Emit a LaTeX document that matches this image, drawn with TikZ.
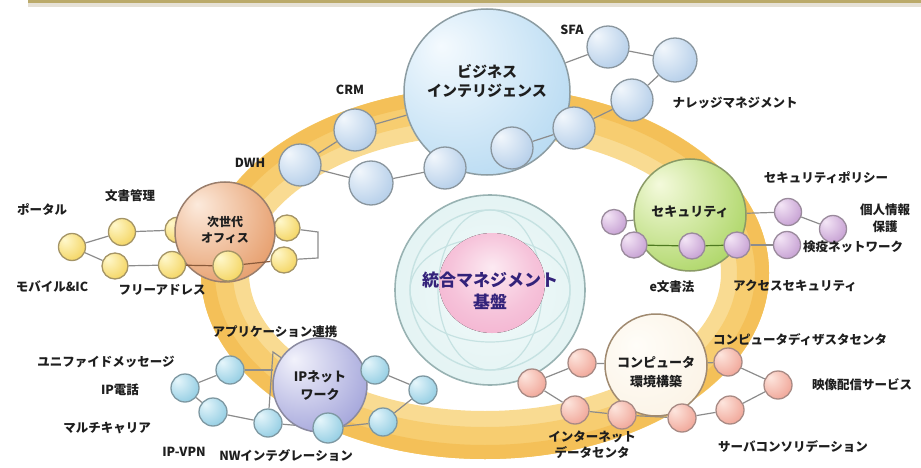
\documentclass[tikz,border=0pt]{standalone}
\usepackage{fontspec}
\setmainfont{Noto Sans CJK JP}
\pgfdeclarelayer{ringlayer}
\pgfdeclarelayer{linklayer}
\pgfsetlayers{ringlayer,linklayer,main}

% palette
\definecolor{bandA}{HTML}{BBAA6A}
\definecolor{bandB}{HTML}{E6E1D6}
\definecolor{ringA}{HTML}{F9DB92}
\definecolor{ringB}{HTML}{F7CD70}
\definecolor{ringC}{HTML}{F4C058}
\definecolor{linkc}{HTML}{8C8C8C}
\definecolor{labelc}{HTML}{1E1E1E}
\definecolor{blueIn}{HTML}{F2F7FC}
\definecolor{blueOut}{HTML}{9EBFE2}
\definecolor{blueEdge}{HTML}{8A969E}
\definecolor{yelIn}{HTML}{FFF8CC}
\definecolor{yelOut}{HTML}{F0C83A}
\definecolor{yelEdge}{HTML}{A49466}
\definecolor{purIn}{HTML}{F4E6F6}
\definecolor{purOut}{HTML}{B586C6}
\definecolor{purEdge}{HTML}{9A8A9C}
\definecolor{salIn}{HTML}{FDE6DE}
\definecolor{salOut}{HTML}{EC8E7E}
\definecolor{salEdge}{HTML}{A88A84}
\definecolor{cyaIn}{HTML}{E6F6FB}
\definecolor{cyaOut}{HTML}{74BEDA}
\definecolor{cyaEdge}{HTML}{7E98A2}
\definecolor{biIn}{HTML}{F4FAFE}
\definecolor{biOut}{HTML}{A4D0EE}
\definecolor{biEdge}{HTML}{8C9CA2}
\definecolor{offIn}{HTML}{FCEADC}
\definecolor{offOut}{HTML}{DF8446}
\definecolor{offEdge}{HTML}{9A7E6C}
\definecolor{secIn}{HTML}{F4FADC}
\definecolor{secOut}{HTML}{96CA40}
\definecolor{secEdge}{HTML}{8A9A66}
\definecolor{ipIn}{HTML}{F2F2FB}
\definecolor{ipOut}{HTML}{8A8CD0}
\definecolor{ipEdge}{HTML}{8A8AA0}
\definecolor{cmpIn}{HTML}{FFFDF8}
\definecolor{cmpOut}{HTML}{F6E6CE}
\definecolor{cmpEdge}{HTML}{A08A70}
\definecolor{coreIn}{HTML}{F2FAFA}
\definecolor{coreOut}{HTML}{D6EDED}
\definecolor{coreEdge}{HTML}{98B2B2}
\definecolor{coreLine}{HTML}{C6E2E2}
\definecolor{pinkIn}{HTML}{FCEAF2}
\definecolor{pinkOut}{HTML}{F09CC2}
\definecolor{coreText}{HTML}{33227A}
\definecolor{greenLine}{HTML}{4E7A20}
\definecolor{brownLine}{HTML}{8A5A3A}

% glossy sphere shadings, highlight up and to the left
\def\declbub#1#2#3{\pgfdeclareradialshading{#1}{\pgfpoint{-14bp}{14bp}}%
  {color(0bp)=(#2); color(22bp)=(#2!55!#3); color(48bp)=(#3); color(72bp)=(#3!85!black)}}
\declbub{shBlue}{blueIn}{blueOut}
\declbub{shYel}{yelIn}{yelOut}
\declbub{shPur}{purIn}{purOut}
\declbub{shSal}{salIn}{salOut}
\declbub{shCya}{cyaIn}{cyaOut}
\declbub{shBi}{biIn}{biOut}
\declbub{shOff}{offIn}{offOut}
\declbub{shSec}{secIn}{secOut}
\declbub{shIp}{ipIn}{ipOut}
\pgfdeclareradialshading{shCmp}{\pgfpoint{-10bp}{10bp}}{color(0bp)=(cmpIn); color(40bp)=(cmpIn!50!cmpOut); color(70bp)=(cmpOut)}
\pgfdeclareradialshading{shCore}{\pgfpoint{0bp}{0bp}}{color(0bp)=(coreIn); color(50bp)=(coreOut)}
\pgfdeclareradialshading{shPink}{\pgfpoint{0bp}{8bp}}{color(0bp)=(pinkIn); color(20bp)=(pinkIn!50!pinkOut); color(50bp)=(pinkOut)}

\begin{document}
\begin{tikzpicture}[x=1pt,y=-1pt,
  lbl/.style={font=\bfseries\fontsize{12.5}{14}\selectfont, text=labelc, inner sep=0pt},
  big/.style={font=\bfseries\fontsize{14}{20}\selectfont, text=labelc, align=center, inner sep=0pt},
  bub/.style={circle, inner sep=0pt, line width=1.3pt},
  bblue/.style={bub, draw=blueEdge, shading=shBlue},
  byel/.style={bub, draw=yelEdge, shading=shYel},
  bpur/.style={bub, draw=purEdge, shading=shPur},
  bsal/.style={bub, draw=salEdge, shading=shSal},
  bcya/.style={bub, draw=cyaEdge, shading=shCya},
  link/.style={draw=linkc, line width=1.2pt},
  overlink/.style={line width=1.2pt}
]
\useasboundingbox (0,0) rectangle (921,468);

% header strip
\fill[bandA] (28,0) rectangle (921,3.5);
\fill[bandB] (28,3.5) rectangle (921,7);

% the orange orbit
\begin{pgfonlayer}{ringlayer}
  \draw[ringA, line width=48pt] (485,273) ellipse [x radius=260, y radius=162];
  \draw[ringB, line width=32pt] (485,273) ellipse [x radius=268, y radius=170];
  \draw[ringC, line width=14pt] (485,273) ellipse [x radius=277, y radius=179];
\end{pgfonlayer}

% bubbles that sit behind the big spheres
\node[byel, minimum size=26] (y5) at (178,230) {};
\node[byel, minimum size=26] (y7) at (287,228) {};
\node[bpur, minimum size=25] (p1) at (614,222) {};

% big spheres
\node[bub, draw=biEdge, shading=shBi, minimum size=166, line width=1.5pt] (bi) at (487,92) {};
\node[bub, draw=offEdge, shading=shOff, minimum size=100, line width=1.5pt] (off) at (225,232) {};
\node[bub, draw=secEdge, shading=shSec, minimum size=112, line width=1.5pt] (sec) at (690,215) {};
\node[bub, draw=ipEdge, shading=shIp, minimum size=94, line width=1.5pt] (ipn) at (320,385) {};
\node[bub, draw=cmpEdge, shading=shCmp, minimum size=102, line width=1.5pt] (cmp) at (656,365) {};

% central platform
\node[bub, draw=coreEdge, shading=shCore, minimum size=190, line width=1.6pt] (core) at (490,290) {};
\draw[coreLine, line width=1.4pt] (490,290) circle (80);
\draw[coreLine, line width=1.2pt] (490,290) ellipse [x radius=80, y radius=52];
\draw[coreLine, line width=1.2pt] (490,290) ellipse [x radius=52, y radius=80];
\fill[shading=shPink] (492,283) ellipse [x radius=53, y radius=50];
\node[font=\bfseries\fontsize{17}{22}\selectfont, text=coreText, align=center] (coreT) at (490,291) {統合マネジメント\\基盤};

% business intelligence cluster
\node[bblue, minimum size=42] (bSFA) at (608,47) {};
\node[bblue, minimum size=44] (bK1) at (675,60) {};
\node[bblue, minimum size=42] (bK2) at (632,100) {};
\node[bblue, minimum size=42] (bK3) at (574,128) {};
\node[bblue, minimum size=42] (bL1) at (512,148) {};
\node[bblue, minimum size=42] (bL2) at (445,168) {};
\node[bblue, minimum size=44] (bL3) at (371,183) {};
\node[bblue, minimum size=42] (bDWH) at (300,165) {};
\node[bblue, minimum size=42] (bCRM) at (355,130) {};
\node[big, font=\bfseries\fontsize{15}{19}\selectfont] (biT) at (487,81) {ビジネス\\インテリジェンス};

% office cluster
\node[byel, minimum size=27] (y1) at (122,232) {};
\node[byel, minimum size=27] (y2) at (72,247) {};
\node[byel, minimum size=26] (y3) at (115,266) {};
\node[byel, minimum size=27] (y4) at (172,265) {};
\node[byel, minimum size=30] (y6) at (228,266) {};
\node[byel, minimum size=26] (y8) at (284,260) {};
\coordinate (ofR1) at (318,232);
\coordinate (ofR2) at (318,258);
\node[big, font=\bfseries\fontsize{12}{16}\selectfont] (offT) at (225,230) {次世代\\オフィス};

% security cluster
\node[bpur, minimum size=26] (p2) at (634,245) {};
\node[bpur, minimum size=26] (p3) at (692,246) {};
\node[bpur, minimum size=26] (p4) at (737,245) {};
\node[bpur, minimum size=27] (p5) at (788,212) {};
\node[bpur, minimum size=27] (p6) at (833,229) {};
\node[bpur, minimum size=27] (p7) at (787,245) {};
\node[big, font=\bfseries\fontsize{13}{16}\selectfont] (secT) at (690,212) {セキュリティ};

% IP network cluster
\node[bcya, minimum size=28] (i1) at (230,370) {};
\node[bcya, minimum size=28] (i2) at (185,388) {};
\node[bcya, minimum size=28] (i3) at (213,412) {};
\node[bcya, minimum size=28] (i4) at (268,423) {};
\node[bcya, minimum size=30] (i5) at (328,428) {};
\node[bcya, minimum size=28] (i6) at (375,370) {};
\node[bcya, minimum size=28] (i7) at (423,390) {};
\node[bcya, minimum size=28] (i8) at (383,422) {};
\coordinate (ipV1) at (273,352);
\coordinate (ipM) at (273,370);
\node[big, font=\bfseries\fontsize{13}{18}\selectfont] (ipT) at (320,386) {IPネット\\ワーク};

% computing environment cluster
\node[bsal, minimum size=28] (c1) at (582,363) {};
\node[bsal, minimum size=28] (c2) at (532,383) {};
\node[bsal, minimum size=28] (c3) at (575,410) {};
\node[bsal, minimum size=28] (c4) at (622,415) {};
\node[bsal, minimum size=28] (c5) at (682,418) {};
\node[bsal, minimum size=28] (c6) at (730,410) {};
\node[bsal, minimum size=28] (c7) at (728,362) {};
\node[bsal, minimum size=28] (c8) at (778,385) {};
\node[big, font=\bfseries\fontsize{13}{19}\selectfont] (cmpT) at (656,372) {コンピュータ\\環境構築};

% connectors beneath the spheres
\begin{pgfonlayer}{linklayer}
  \draw[link] (bi) -- (bCRM);
  \draw[link] (bCRM) -- (bDWH);
  \draw[link] (bDWH) -- (bL3);
  \draw[link] (bL3) -- (bL2);
  \draw[link] (bL2) -- (bL1);
  \draw[link] (bK3) -- (bK2);
  \draw[link] (bK2) -- (bK1);
  \draw[link] (bK1) -- (bSFA);
  \draw[link] (bSFA) -- (bi);
  \draw[link] (y2) -- (y1);
  \draw[link] (y1) -- (y5);
  \draw[link] (y2) -- (y3);
  \draw[link] (y3) -- (y4);
  \draw[link] (y7) -- (ofR1) -- (ofR2) -- (y8);
  \draw[link] (p1) -- (sec);
  \draw[link] (p4) -- (p7);
  \draw[link] (sec) -- (p5);
  \draw[link] (p5) -- (p6);
  \draw[link] (i2) -- (i1);
  \draw[link] (i1) -- (ipM);
  \draw[link] (i4) -- (ipV1) -- (ipn);
  \draw[link] (i2) -- (i3);
  \draw[link] (i3) -- (i4);
  \draw[link] (i4) -- (i5);
  \draw[link] (i6) -- (ipn);
  \draw[link] (i6) -- (i7);
  \draw[link] (i7) -- (i8);
  \draw[link] (i8) -- (i5);
  \draw[link] (c2) -- (c1);
  \draw[link] (c1) -- (cmp);
  \draw[link] (c2) -- (c3);
  \draw[link] (c3) -- (c4);
  \draw[link] (c4) -- (c5);
  \draw[link] (c5) -- (c6);
  \draw[link] (c6) -- (c8);
  \draw[link] (c8) -- (c7);
  \draw[link] (c7) -- (cmp);
\end{pgfonlayer}

% connectors running across the spheres
\draw[overlink, linkc] (bL1) -- (bK3);
\draw[overlink, brownLine] (y4) -- (y6);
\draw[overlink, brownLine] (y6) -- (y8);
\draw[overlink, greenLine] (p2) -- (p3);
\draw[overlink, greenLine] (p3) -- (p4);

% item labels
\node[lbl] (tSFA) at (572,30) {SFA};
\node[lbl] (tCRM) at (350,90) {CRM};
\node[lbl] (tKM) at (735,103) {ナレッジマネジメント};
\node[lbl] (tDWH) at (250,163) {DWH};
\node[lbl] (tDoc) at (130,196) {文書管理};
\node[lbl] (tPortal) at (42,210) {ポータル};
\node[lbl] (tMob) at (52,287) {モバイル\&IC};
\node[lbl] (tFree) at (162,290) {フリーアドレス};
\node[lbl] (tPol) at (826,178) {セキュリティポリシー};
\node[lbl, align=center, font=\bfseries\fontsize{12.5}{17}\selectfont] (tPriv) at (885,218) {個人情報\\保護};
\node[lbl] (tQuar) at (853,247) {検疫ネットワーク};
\node[lbl] (tEdoc) at (672,287) {e文書法};
\node[lbl] (tAcc) at (795,286) {アクセスセキュリティ};
\node[lbl] (tApp) at (275,332) {アプリケーション連携};
\node[lbl] (tDis) at (800,340) {コンピュータディザスタセンタ};
\node[lbl] (tUni) at (106,362) {ユニファイドメッセージ};
\node[lbl] (tTel) at (120,390) {IP電話};
\node[lbl] (tVid) at (862,385) {映像配信サービス};
\node[lbl] (tMulti) at (107,428) {マルチキャリア};
\node[lbl, align=center, font=\bfseries\fontsize{12.5}{16}\selectfont] (tIdc) at (592,445) {インターネット\\データセンタ};
\node[lbl] (tSrv) at (793,447) {サーバコンソリデーション};
\node[lbl] (tVpn) at (184,452) {IP-VPN};
\node[lbl] (tNwi) at (286,456) {NWインテグレーション};
\end{tikzpicture}
\end{document}
